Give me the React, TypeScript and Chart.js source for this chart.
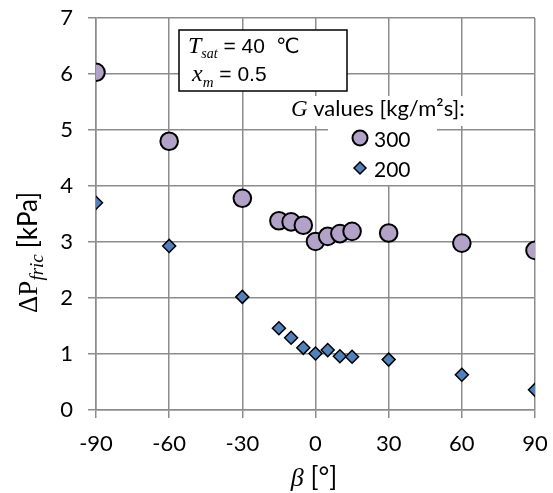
import React, { useEffect, useRef } from 'react';
import { Chart, registerables } from 'chart.js';

Chart.register(...registerables);

// ---- data ----
const betaDeg = [-90, -60, -30, -15, -10, -5, 0, 5, 10, 15, 30, 60, 90];
const dp300 = [6.03, 4.80, 3.78, 3.38, 3.36, 3.30, 3.01, 3.10, 3.15, 3.19, 3.16, 2.98, 2.85];
const dp200 = [3.70, 2.93, 2.02, 1.46, 1.29, 1.11, 1.01, 1.07, 0.96, 0.95, 0.90, 0.63, 0.36];
const xTicks = [-90, -60, -30, 0, 30, 60, 90];
const yTicks = [0, 1, 2, 3, 4, 5, 6, 7];
const seriesLabels = ['300', '200'];

const SANS = 'Lato, "Open Sans", sans-serif';
const SERIF = '"Liberation Serif", "DejaVu Serif", serif';
const ARIAL = '"Liberation Sans", "DejaVu Sans", sans-serif';
const GRID = '#8c8c8c';
const PURPLE = '#b3a2c7';
const BLUE = '#4f81bd';

type Part = { t: string; f: string; dy?: number };

function drawParts(ctx: CanvasRenderingContext2D, parts: Part[], x: number, y: number) {
  let cx = x;
  for (const p of parts) {
    ctx.font = p.f;
    ctx.fillText(p.t, cx, y + (p.dy || 0));
    cx += ctx.measureText(p.t).width;
  }
  return cx;
}

function partsWidth(ctx: CanvasRenderingContext2D, parts: Part[]) {
  let w = 0;
  for (const p of parts) {
    ctx.font = p.f;
    w += ctx.measureText(p.t).width;
  }
  return w;
}

const annotations = {
  id: 'annotations',
  afterDraw(chart: any) {
    const ctx: CanvasRenderingContext2D = chart.ctx;
    ctx.save();
    ctx.fillStyle = '#000';
    ctx.textBaseline = 'alphabetic';
    ctx.textAlign = 'left';

    // --- condition text box ---
    ctx.fillStyle = '#fff';
    ctx.fillRect(179, 30, 168, 61);
    ctx.strokeStyle = '#000';
    ctx.lineWidth = 1.5;
    ctx.strokeRect(179, 30, 168, 61);
    ctx.fillStyle = '#000';
    const ex = drawParts(
      ctx,
      [
        { t: 'T', f: `italic 24px ${SERIF}` },
        { t: 'sat', f: `italic 14px ${SERIF}`, dy: 5 },
        { t: ' = 40', f: `21px ${ARIAL}` },
      ],
      188,
      53
    );
    ctx.font = `21px "DejaVu Sans", ${ARIAL}`;
    ctx.fillText('\u2103', ex + 11, 53);
    drawParts(
      ctx,
      [
        { t: 'x', f: `italic 24px ${SERIF}` },
        { t: 'm', f: `italic 15px ${SERIF}`, dy: 6 },
        { t: ' = 0.5', f: `21px ${ARIAL}` },
      ],
      192,
      81
    );

    // --- legend ---
    ctx.fillStyle = '#fff';
    ctx.fillRect(288, 96, 180, 30);
    ctx.fillRect(328, 122, 109, 63);
    ctx.fillStyle = '#000';
    drawParts(
      ctx,
      [
        { t: 'G', f: `italic 23px ${SERIF}` },
        { t: ' values [kg/m\u00b2s]:', f: `22px ${SANS}` },
      ],
      291,
      116
    );
    // circle marker
    ctx.beginPath();
    ctx.arc(360, 138, 7.5, 0, Math.PI * 2);
    ctx.fillStyle = PURPLE;
    ctx.fill();
    ctx.lineWidth = 2;
    ctx.strokeStyle = '#000';
    ctx.stroke();
    // diamond marker
    ctx.beginPath();
    ctx.moveTo(360 - 6, 168);
    ctx.lineTo(360, 168 - 6);
    ctx.lineTo(360 + 6, 168);
    ctx.lineTo(360, 168 + 6);
    ctx.closePath();
    ctx.fillStyle = BLUE;
    ctx.fill();
    ctx.lineWidth = 1.5;
    ctx.stroke();
    ctx.fillStyle = '#000';
    ctx.font = `21px ${SANS}`;
    ctx.fillText(seriesLabels[0], 374, 147);
    ctx.fillText(seriesLabels[1], 374, 177);

    // --- x axis title ---
    const xParts: Part[] = [
      { t: '\u03b2', f: `italic 26px ${SERIF}` },
      { t: ' [\u00b0]', f: `26px ${SANS}` },
    ];
    const xw = partsWidth(ctx, xParts);
    drawParts(ctx, xParts, 314 - xw / 2, 486);

    // --- y axis title (reads bottom to top) ---
    ctx.translate(37, 0);
    ctx.rotate(-Math.PI / 2);
    const cx = drawParts(
      ctx,
      [
        { t: '\u0394P', f: `27px ${SERIF}` },
        { t: 'fric', f: `italic 19px ${SERIF}`, dy: 6 },
      ],
      -313,
      0
    );
    drawParts(ctx, [{ t: '[kPa]', f: `26px ${SANS}` }], cx + 6, 0);
    ctx.restore();
  },
};

export default function App() {
  const ref = useRef<HTMLCanvasElement | null>(null);

  useEffect(() => {
    if (!ref.current) return;
    const tickFont = { family: SANS, size: 22 };
    const chart = new Chart(ref.current, {
      type: 'scatter',
      data: {
        datasets: [
          {
            label: seriesLabels[0],
            data: betaDeg.map((b, i) => ({ x: b, y: dp300[i] })),
            pointStyle: 'circle',
            pointRadius: 8.8,
            backgroundColor: PURPLE,
            borderColor: '#000',
            borderWidth: 2,
            showLine: false,
          },
          {
            label: seriesLabels[1],
            data: betaDeg.map((b, i) => ({ x: b, y: dp200[i] })),
            pointStyle: 'rectRot',
            pointRadius: 6.5,
            backgroundColor: BLUE,
            borderColor: '#000',
            borderWidth: 1.5,
            showLine: false,
          },
        ],
      },
      options: {
        animation: false,
        responsive: false,
        maintainAspectRatio: false,
        layout: { autoPadding: false, padding: { top: 18, right: 18, left: 0, bottom: 0 } },
        plugins: { legend: { display: false }, tooltip: { enabled: false } },
        scales: {
          x: {
            type: 'linear',
            min: -90,
            max: 90,
            afterBuildTicks: (s: any) => {
              s.ticks = xTicks.map((v) => ({ value: v }));
            },
            afterFit: (s: any) => {
              s.height = 83;
              s.paddingLeft = 0;
              s.paddingRight = 0;
            },
            ticks: { font: tickFont, color: '#000', padding: 13, maxRotation: 0 },
            grid: { color: GRID, lineWidth: 1.5, tickLength: 8 },
            border: { color: GRID, width: 1.5 },
          },
          y: {
            type: 'linear',
            min: 0,
            max: 7,
            afterBuildTicks: (s: any) => {
              s.ticks = yTicks.map((v) => ({ value: v }));
            },
            afterFit: (s: any) => {
              s.width = 96;
              s.paddingTop = 0;
              s.paddingBottom = 0;
            },
            ticks: { font: tickFont, color: '#000', padding: 15 },
            grid: { color: GRID, lineWidth: 1.5, tickLength: 8 },
            border: { color: GRID, width: 1.5 },
          },
        },
      },
      plugins: [annotations],
    });
    return () => chart.destroy();
  }, []);

  return (
    <div style={{ position: 'absolute', left: 0, top: 0, width: 553, height: 493, background: '#fff' }}>
      <canvas ref={ref} width={553} height={493} style={{ width: 553, height: 493, display: 'block' }} />
    </div>
  );
}
